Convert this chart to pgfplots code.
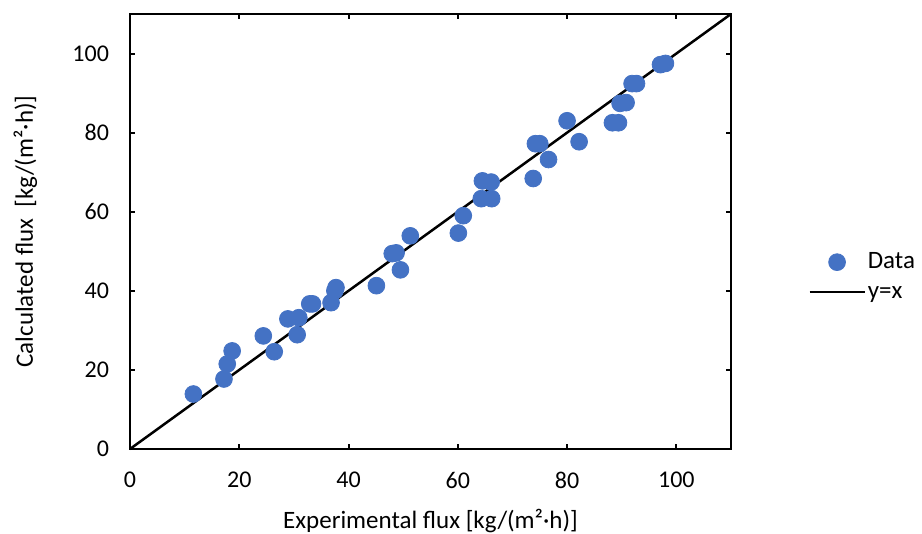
\documentclass[border=0pt]{standalone}
\usepackage{pgfplots}
\usepackage{fontspec}
\pgfplotsset{compat=1.18}
\setmainfont{Carlito}
\definecolor{xlblue}{RGB}{68,114,196}

\begin{document}
\begin{tikzpicture}
\begin{axis}[
  name=ax,
  scale only axis,
  width=300.5pt,
  height=217.5pt,
  xmin=0, xmax=110,
  ymin=0, ymax=110,
  xtick={0,20,40,60,80,100},
  ytick={0,20,40,60,80,100},
  tick align=inside,
  major tick length=2.5pt,
  axis line style={line width=1pt},
  every tick/.style={black,line width=1pt},
  /pgf/number format/assume math mode=true,
  font=\fontsize{12pt}{14pt}\selectfont,
  xticklabel style={yshift=-8pt},
  yticklabel style={xshift=-7pt},
  xlabel={Experimental flux [kg/(m²·h)]},
  ylabel={Calculated flux~ [kg/(m²·h)]},
  label style={font=\fontsize{12.5pt}{14pt}\selectfont},
  xlabel style={yshift=-3.5pt},
  ylabel style={yshift=10.8pt},
  legend style={draw=none, at={(1.128,0.395)}, anchor=west, inner sep=0pt,
    row sep=5pt, font=\fontsize{12.5pt}{14pt}\selectfont,
    nodes={text height=8pt, text depth=2pt, inner ysep=0pt, inner xsep=1pt},
    /tikz/every even column/.append style={column sep=0pt}},
  legend cell align=left,
  legend image code/.code={\draw[mark repeat=2,mark phase=2] plot coordinates {(0pt,0pt) (13.75pt,0pt) (27.5pt,0pt)};},
  clip=false,
]
\addplot[only marks, mark=*, mark size=4.2pt, color=xlblue, mark options={draw=xlblue, fill=xlblue}] coordinates {
  (11.6,13.9) (17.2,17.7) (17.8,21.5) (18.7,24.8) (24.4,28.6) (26.4,24.6)
  (28.9,32.9) (30.6,28.9) (30.9,33.2) (32.9,36.7) (33.4,36.7) (36.8,37.0)
  (37.5,40.0) (37.7,40.8) (45.1,41.3) (48.0,49.4) (48.7,49.6) (49.5,45.3)
  (51.3,53.9) (60.1,54.6) (61.0,59.0) (64.3,63.3) (64.5,67.8) (66.1,67.5)
  (66.2,63.3) (73.8,68.4) (74.2,77.2) (75.0,77.2) (76.6,73.2) (80.0,83.0)
  (82.2,77.7) (88.3,82.5) (89.4,82.5) (89.7,87.4) (90.8,87.6) (91.9,92.4)
  (92.7,92.4) (97.1,97.2) (98.0,97.5)
};
\addlegendentry{Data}
\addplot[black, line width=1.25pt] coordinates {(0,0) (110,110)};
\addlegendentry{y=x}
\end{axis}
\pgfresetboundingbox
\useasboundingbox ([xshift=-65pt,yshift=-42.5pt]ax.south west) rectangle ([xshift=95.5pt,yshift=7pt]ax.north east);
\end{tikzpicture}
\end{document}
